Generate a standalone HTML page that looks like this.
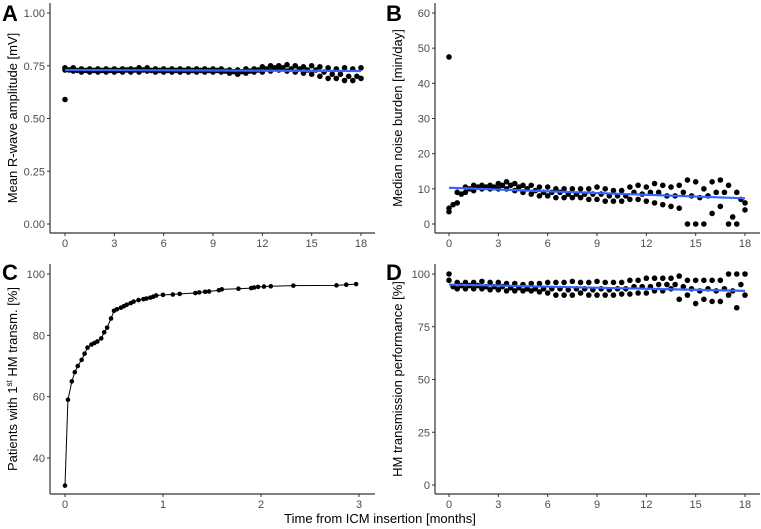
<!DOCTYPE html>
<html><head><meta charset="utf-8"><style>
body{margin:0;background:#fff}
svg{display:block;font-family:"Liberation Sans",Arial,sans-serif}
.tk{font-size:11px;fill:#4d4d4d}
.tt{font-size:13px;fill:#000}
.lt{font-size:22px;font-weight:bold;fill:#000}
</style></head><body>
<svg id="fig" width="761" height="529"></svg>
<script>
// Panel A data
const xHalf=[0,0.5,1,1.5,2,2.5,3,3.5,4,4.5,5,5.5,6,6.5,7,7.5,8,8.5,9,9.5,10,10.5,11,11.5,12,12.5,13,13.5,14,14.5,15,15.5,16,16.5,17,17.5,18];
const xMid=[0.25,0.75,1.25,1.75,2.25,2.75,3.25,3.75,4.25,4.75,5.25,5.75,6.25,6.75,7.25,7.75,8.25,8.75,9.25,9.75,10.25,10.75,11.25,11.75,12.25,12.75,13.25,13.75,14.25,14.75,15.25,15.75,16.25,16.75,17.25,17.75];
const aHi=[0.74,0.74,0.735,0.735,0.735,0.735,0.735,0.735,0.735,0.74,0.74,0.735,0.735,0.735,0.735,0.735,0.735,0.735,0.735,0.735,0.73,0.73,0.735,0.735,0.745,0.75,0.75,0.755,0.75,0.745,0.75,0.745,0.74,0.735,0.74,0.735,0.74];
const aLo=[0.73,0.725,0.72,0.72,0.72,0.72,0.72,0.72,0.72,0.72,0.725,0.72,0.72,0.72,0.72,0.72,0.72,0.72,0.72,0.72,0.715,0.71,0.715,0.72,0.72,0.725,0.73,0.725,0.72,0.715,0.71,0.70,0.69,0.69,0.68,0.68,0.69];
const aMid=[0.73,0.728,0.728,0.728,0.728,0.728,0.728,0.73,0.73,0.73,0.728,0.728,0.728,0.728,0.728,0.728,0.728,0.728,0.728,0.725,0.722,0.722,0.725,0.73,0.735,0.74,0.74,0.735,0.735,0.73,0.73,0.72,0.71,0.71,0.7,0.7];
const aOutX=[0], aOutY=[0.59];
const aTrend=[0.73,0.725];
// Panel B data
const bHi=[4.5,9,10.5,11,11,11,11.5,12,11.5,11,11,10.5,10.5,10,10,10,10,10,10.5,10,9.5,9.5,10.5,11,10.5,11.5,11,10.5,11,12.5,12,10,12,12.5,11,9,6];
const bLo=[3.5,6,9,9.5,10,10,10,10,9.5,9,8.5,8,8,7.5,7.5,7.5,7.5,7,7,6.5,6.5,6.5,7,7,6.5,6,5.5,5,4.5,0,0,0,3,5,0,0,4];
const bMid=[5.5,8.5,10,10.5,10.5,10.5,11,11,10.5,10,9.5,9,9,9,8.5,8.5,8.5,8.5,8.5,8,8,8,9,8.5,9,9,8,8,9,8,7.5,8,9,9,2,7];
const bOutX=[0], bOutY=[47.5];
const bTrend=[10.3,7.3];
// Panel C data
const cX=[0,0.03,0.07,0.1,0.13,0.17,0.2,0.23,0.27,0.3,0.33,0.37,0.4,0.43,0.47,0.5,0.53,0.57,0.6,0.63,0.67,0.7,0.75,0.8,0.83,0.87,0.9,0.93,1.0,1.1,1.17,1.33,1.37,1.43,1.47,1.57,1.6,1.77,1.9,1.93,1.97,2.03,2.1,2.33,2.77,2.87,2.97];
const cY=[31,59,65,68,70,72,74,76,77,77.5,78,79,81,82.5,85.5,88,88.5,89,89.5,90,90.5,91,91.5,91.8,92,92.3,92.6,93,93.2,93.3,93.5,93.8,94,94.2,94.3,94.7,95,95.2,95.4,95.6,95.8,95.9,96,96.2,96.3,96.5,96.7];
// Panel D data
const dHi=[100,96,96,96,96.5,96,96,95.5,95.5,95,95.5,95.5,96,96,96,96.5,96,96,96.5,96,96,96,97,97,98,98,98,98,99,97,97,97,97,97,100,100,100];
const dLo=[97,93,93,93,93,92.5,92.5,92,92,92,92,91.5,91,90,90,90,91,90,90,90,90,90.5,90.5,91,91,92,92,93,88,90,86,88,87,87,90,84,90];
const dMid=[94,94.5,94.5,94.5,94,94,94,93.5,93.5,93,93,93,93,93,92.5,93,93,92.5,93,92.5,93,93,94,94,94,95,95,95,94,93,92,93,92,93,92,95];
const dTrend=[95,92];
const monthTicks=[0,3,6,9,12,15,18];
const aTicks=[0,0.25,0.5,0.75,1.0], aTickLbl=["0.00","0.25","0.50","0.75","1.00"];
const bTicks=[0,10,20,30,40,50,60];
const cXTicks=[0,1,2,3], cYTicks=[40,60,80,100];
const dTicks=[0,25,50,75,100];

const NS="http://www.w3.org/2000/svg", svg=document.getElementById('fig');
function mk(t,a,p){const e=document.createElementNS(NS,t);for(const k in a)e.setAttribute(k,a[k]);(p||svg).appendChild(e);return e;}
function lin(d0,d1,r0,r1){return v=>r0+(v-d0)/(d1-d0)*(r1-r0);}

function panel(o){
  const g=mk('g',{});
  
  
  const ax=o.ax, by=o.by, top=o.top, sx=o.sx, sy=o.sy;
  const yl=mk('line',{x1:ax,y1:top,x2:ax,y2:by,stroke:'#333','stroke-width':1.2},g);
  
  const xl=mk('line',{x1:ax,y1:by,x2:o.xr,y2:by,stroke:'#333','stroke-width':1.2},g);
  
  o.yt.forEach((v,i)=>{const y=sy(v);
    mk('line',{x1:ax-3,y1:y,x2:ax,y2:y,stroke:'#333'},g);
    const t=mk('text',{x:ax-5,y:y+4,'text-anchor':'end',class:'tk'},g);t.textContent=o.ytl?o.ytl[i]:String(v);
    });
  o.xt.forEach(v=>{const x=sx(v);
    mk('line',{x1:x,y1:by,x2:x,y2:by+3,stroke:'#333'},g);
    const t=mk('text',{x:x,y:by+14,'text-anchor':'middle',class:'tk'},g);t.textContent=String(v);
    });
  const cy=(top+by)/2;
  const tt=mk('text',{x:o.tx,y:cy,'text-anchor':'middle',class:'tt',transform:`rotate(-90 ${o.tx} ${cy})`},g);
  tt.innerHTML=o.title;
  
  const lt=mk('text',{x:o.lx,y:o.ly,class:'lt'},g);lt.textContent=o.letter;
  
  return g;
}
function dots(g,xs,ys,sx,sy,r){xs.forEach((x,i)=>{if(ys[i]===undefined)return;
  const c=mk('circle',{cx:sx(x),cy:sy(ys[i]),r:r||2.8,fill:'#000'},g);
  });}
function trend(g,t,sx,sy){const l=mk('line',{x1:sx(0),y1:sy(t[0]),x2:sx(18),y2:sy(t[1]),stroke:'#3366FF','stroke-width':2.2},g);
  }

// A
let sx=lin(0,18,65,361), sy=lin(0,1,224,13);
let g=panel({name:'panel-a',ax:50,top:3,by:233,xr:375,sx,sy,yt:aTicks,ytl:aTickLbl,xt:monthTicks,tx:17,title:'Mean R-wave amplitude [mV]',letter:'A',lx:2,ly:21});
dots(g,xHalf,aHi,sx,sy);dots(g,xHalf,aLo,sx,sy);dots(g,xMid,aMid,sx,sy);dots(g,aOutX,aOutY,sx,sy);trend(g,aTrend,sx,sy);
// B
sx=lin(0,18,449,745); sy=lin(0,60,224,13);
g=panel({name:'panel-b',ax:435,top:3,by:233,xr:760,sx,sy,yt:bTicks,xt:monthTicks,tx:402,title:'Median noise burden [min/day]',letter:'B',lx:386,ly:21});
dots(g,xHalf,bHi,sx,sy);dots(g,xHalf,bLo,sx,sy);dots(g,xMid,bMid,sx,sy);dots(g,bOutX,bOutY,sx,sy);trend(g,bTrend,sx,sy);
// C
sx=lin(0,3,65,359); sy=lin(40,100,458,274);
g=panel({name:'panel-c',ax:50,top:264,by:494,xr:375,sx,sy,yt:cYTicks,xt:cXTicks,tx:17,title:'Patients with 1<tspan dy="-5" font-size="8">st</tspan><tspan dy="5"> HM transm. [%]</tspan>',letter:'C',lx:2,ly:280});
const pl=mk('polyline',{points:cX.map((x,i)=>sx(x)+','+sy(cY[i])).join(' '),fill:'none',stroke:'#000','stroke-width':1},g);

dots(g,cX,cY,sx,sy,2.3);
// D
sx=lin(0,18,449,745); sy=lin(0,100,485,274);
g=panel({name:'panel-d',ax:435,top:264,by:494,xr:760,sx,sy,yt:dTicks,xt:monthTicks,tx:402,title:'HM transmission performance [%]',letter:'D',lx:386,ly:280});
dots(g,xHalf,dHi,sx,sy);dots(g,xHalf,dLo,sx,sy);dots(g,xMid,dMid,sx,sy);trend(g,dTrend,sx,sy);
const xt=mk('text',{x:380,y:523,'text-anchor':'middle',class:'tt'});xt.textContent='Time from ICM insertion [months]';


</script>
</body></html>
